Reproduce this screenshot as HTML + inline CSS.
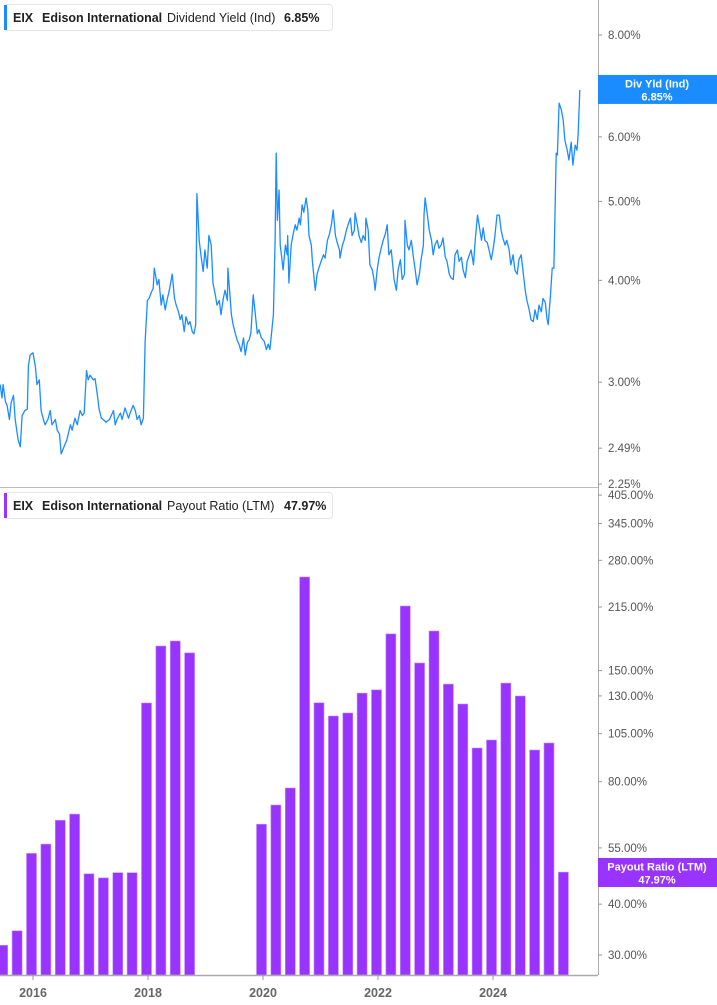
<!DOCTYPE html>
<html><head><meta charset="utf-8"><style>
html,body{margin:0;padding:0;background:#fff;}
svg{display:block;font-family:"Liberation Sans",sans-serif;}
</style></head><body>
<svg id="chart" width="717" height="1005" viewBox="0 0 717 1005" xmlns="http://www.w3.org/2000/svg">
<rect x="0" y="0" width="717" height="1005" fill="#fff"/>
<g id="topPanel"></g>
<g id="botPanel"></g>
<g id="axesG"></g>
</svg>
<script>
const yieldDates=[2015.43,2015.46,2015.48,2015.52,2015.55,2015.59,2015.62,2015.66,2015.69,2015.74,2015.78,2015.81,2015.86,2015.90,2015.92,2015.95,2016.00,2016.04,2016.07,2016.11,2016.14,2016.18,2016.21,2016.26,2016.30,2016.33,2016.39,2016.42,2016.46,2016.49,2016.54,2016.59,2016.65,2016.68,2016.73,2016.77,2016.82,2016.86,2016.89,2016.93,2016.96,2016.99,2017.05,2017.08,2017.12,2017.15,2017.19,2017.22,2017.27,2017.33,2017.36,2017.40,2017.43,2017.46,2017.52,2017.55,2017.60,2017.66,2017.69,2017.74,2017.78,2017.81,2017.85,2017.88,2017.92,2017.95,2017.99,2018.02,2018.06,2018.09,2018.11,2018.16,2018.19,2018.23,2018.26,2018.30,2018.33,2018.37,2018.42,2018.46,2018.49,2018.53,2018.56,2018.59,2018.63,2018.66,2018.70,2018.73,2018.77,2018.80,2018.83,2018.85,2018.89,2018.92,2018.96,2018.99,2019.03,2019.06,2019.10,2019.13,2019.17,2019.20,2019.24,2019.27,2019.31,2019.34,2019.38,2019.39,2019.45,2019.48,2019.52,2019.55,2019.59,2019.62,2019.66,2019.69,2019.73,2019.76,2019.79,2019.83,2019.86,2019.90,2019.93,2019.97,2020.02,2020.06,2020.09,2020.12,2020.18,2020.21,2020.23,2020.25,2020.28,2020.30,2020.33,2020.35,2020.39,2020.42,2020.43,2020.45,2020.49,2020.52,2020.56,2020.59,2020.63,2020.65,2020.68,2020.71,2020.75,2020.78,2020.80,2020.84,2020.86,2020.89,2020.91,2020.94,2020.97,2021.01,2021.05,2021.08,2021.12,2021.15,2021.19,2021.22,2021.26,2021.29,2021.33,2021.34,2021.38,2021.41,2021.45,2021.48,2021.52,2021.55,2021.59,2021.60,2021.64,2021.67,2021.71,2021.74,2021.78,2021.79,2021.83,2021.86,2021.90,2021.93,2021.95,2021.99,2022.02,2022.06,2022.09,2022.13,2022.16,2022.19,2022.23,2022.25,2022.28,2022.32,2022.35,2022.39,2022.42,2022.46,2022.47,2022.51,2022.54,2022.58,2022.61,2022.65,2022.68,2022.72,2022.75,2022.79,2022.80,2022.82,2022.86,2022.89,2022.93,2022.96,2022.99,2023.03,2023.06,2023.10,2023.13,2023.17,2023.20,2023.24,2023.27,2023.31,2023.34,2023.38,2023.41,2023.45,2023.48,2023.52,2023.55,2023.59,2023.62,2023.66,2023.69,2023.73,2023.76,2023.80,2023.83,2023.86,2023.90,2023.93,2023.97,2024.00,2024.03,2024.07,2024.11,2024.14,2024.17,2024.21,2024.24,2024.28,2024.31,2024.35,2024.38,2024.42,2024.45,2024.49,2024.52,2024.56,2024.59,2024.63,2024.66,2024.70,2024.73,2024.77,2024.80,2024.84,2024.87,2024.91,2024.94,2024.96,2025.00,2025.03,2025.06,2025.10,2025.12,2025.15,2025.19,2025.22,2025.25,2025.29,2025.32,2025.36,2025.39,2025.43,2025.46,2025.48,2025.51];
const yieldValues=[2.98,2.87,2.98,2.84,2.81,2.70,2.83,2.89,2.70,2.55,2.50,2.73,2.77,2.78,3.14,3.24,3.26,3.14,2.98,3.02,2.77,2.70,2.66,2.70,2.77,2.66,2.70,2.62,2.59,2.45,2.50,2.55,2.66,2.62,2.71,2.66,2.77,2.73,2.75,3.10,3.02,3.06,3.02,3.03,2.89,2.78,2.71,2.70,2.68,2.70,2.73,2.77,2.66,2.70,2.75,2.70,2.79,2.71,2.75,2.81,2.77,2.70,2.73,2.66,2.71,3.36,3.78,3.80,3.87,3.91,4.14,3.95,4.01,3.73,3.84,3.68,3.78,3.89,4.07,3.80,3.73,3.66,3.58,3.63,3.46,3.61,3.53,3.56,3.46,3.44,3.53,5.11,4.48,4.30,4.10,4.36,4.14,4.54,4.42,3.97,3.84,3.73,3.78,3.63,3.80,3.89,3.78,4.14,3.63,3.53,3.44,3.38,3.33,3.27,3.40,3.24,3.36,3.38,3.45,3.84,3.68,3.44,3.48,3.40,3.37,3.29,3.34,3.29,3.63,4.48,5.73,4.74,5.16,4.42,4.24,4.12,4.42,4.30,4.54,3.97,4.42,4.54,4.68,4.61,4.77,4.68,4.95,4.85,5.05,4.88,4.54,4.42,4.22,4.01,3.89,4.07,4.14,4.22,4.30,4.26,4.48,4.54,4.68,4.88,4.54,4.45,4.36,4.26,4.42,4.48,4.61,4.68,4.77,4.54,4.61,4.84,4.68,4.54,4.45,4.54,4.48,4.77,4.61,4.18,4.12,4.01,3.89,4.14,4.27,4.39,4.48,4.57,4.68,4.30,4.36,4.22,4.01,3.89,4.12,4.24,4.01,4.07,4.74,4.42,4.36,4.48,4.30,4.10,3.95,4.07,4.24,4.42,4.81,5.05,4.81,4.61,4.48,4.30,4.42,4.48,4.38,4.42,4.51,4.27,4.22,4.07,4.03,4.01,4.30,4.36,4.22,4.27,4.12,4.03,4.22,4.30,4.36,4.18,4.48,4.81,4.67,4.48,4.64,4.48,4.45,4.36,4.24,4.36,4.51,4.81,4.81,4.61,4.51,4.42,4.48,4.36,4.18,4.30,4.12,4.07,4.24,4.30,4.12,3.89,3.78,3.68,3.58,3.56,3.68,3.58,3.73,3.66,3.80,3.76,3.58,3.53,3.84,4.14,4.14,5.73,5.70,6.60,6.47,6.29,5.94,5.78,5.62,5.91,5.54,5.86,5.78,6.03,6.85];
const payoutDates=[2015.5,2015.75,2016.0,2016.25,2016.5,2016.75,2017.0,2017.25,2017.5,2017.75,2018.0,2018.25,2018.5,2018.75,2019.0,2019.25,2019.5,2019.75,2020.0,2020.25,2020.5,2020.75,2021.0,2021.25,2021.5,2021.75,2022.0,2022.25,2022.5,2022.75,2023.0,2023.25,2023.5,2023.75,2024.0,2024.25,2024.5,2024.75,2025.0,2025.25];
const payoutValues=[31.7,34.4,53.3,56.2,64.3,66.6,47.5,46.4,47.8,47.8,124.9,172.4,177.4,165.8,null,null,null,null,62.9,70.1,77.2,254.8,125,116,118,132.1,134.5,184.6,216.2,156.6,187.7,139.0,124.2,96.8,101.3,139.8,129.9,95.7,99.6,47.97];
const yearTicks=[2016,2018,2020,2022,2024];
const yieldTicks=[8,7,6,5,4,3,2.49,2.25];
const payoutTicks=[405,345,280,215,150,130,105,80,55,40,30];
const NS="http://www.w3.org/2000/svg";
const xs=d=>33+(d-2016)*57.5;
const yTop=v=>35+354*Math.log(8/v);
const yBot=v=>955-176.7*Math.log(v/30);
function mk(tag,attrs,parent,text){const e=document.createElementNS(NS,tag);for(const k in attrs)e.setAttribute(k,attrs[k]);if(text!==undefined)e.textContent=text;parent.appendChild(e);return e;}
const topG=document.getElementById('topPanel'),botG=document.getElementById('botPanel'),axG=document.getElementById('axesG');
const nPts=Math.min(yieldDates.length,yieldValues.length);
let d='';for(let i=0;i<nPts;i++){d+=(i?'L':'M')+xs(yieldDates[i]).toFixed(1)+' '+yTop(yieldValues[i]).toFixed(1);}
const ln=mk('path',{d:d,fill:'none',stroke:'#1a8cff','stroke-width':1.3,'stroke-linejoin':'round'},topG);


payoutDates.forEach((t,i)=>{const v=payoutValues[i];if(v==null)return;const yy=yBot(v);const b=mk('rect',{x:(xs(t)-6.5).toFixed(1),y:yy.toFixed(1),width:10,height:(975-yy).toFixed(1),fill:'#9933ff',stroke:'#c38cff','stroke-width':0.6},botG);

});
mk('line',{x1:0,y1:487.5,x2:598,y2:487.5,stroke:'#bbb','stroke-width':1},axG);
mk('line',{x1:0,y1:975.5,x2:598,y2:975.5,stroke:'#aaa','stroke-width':1.5},axG);
mk('line',{x1:598.5,y1:0,x2:598.5,y2:975,stroke:'#aaa','stroke-width':1},axG);
yearTicks.forEach(y=>{const x=xs(y);mk('line',{x1:x,y1:975,x2:x,y2:980,stroke:'#999'},axG);
const t=mk('text',{x:x,y:997,'text-anchor':'middle','font-size':12.5,'font-weight':'bold',fill:'#666'},axG,String(y));

});
yieldTicks.forEach(v=>{const y=yTop(v);mk('line',{x1:598,y1:y,x2:602,y2:y,stroke:'#999'},axG);
const t=mk('text',{x:608,y:y+4,'font-size':11.5,fill:'#555'},axG,v.toFixed(2)+'%');

});
payoutTicks.forEach(v=>{const y=yBot(v);mk('line',{x1:598,y1:y,x2:602,y2:y,stroke:'#999'},axG);
const t=mk('text',{x:608,y:y+4,'font-size':11.5,fill:'#555'},axG,v.toFixed(2)+'%');

});
function badge(yc,col,l1,l2,name){const g=mk('g',{},axG);


mk('rect',{x:598,y:yc-14.5,width:119,height:29,fill:col},g);
mk('text',{x:657,y:yc-2,'text-anchor':'middle','font-size':11,'font-weight':'bold',fill:'#fff'},g,l1);
mk('text',{x:657,y:yc+11,'text-anchor':'middle','font-size':11,'font-weight':'bold',fill:'#fff'},g,l2);}
badge(yTop(yieldValues[nPts-1])-0.5,'#1a8cff','Div Yld (Ind)',yieldValues[nPts-1].toFixed(2)+'%','yield-value-badge');
badge(872.5,'#9933ff','Payout Ratio (LTM)',payoutValues[payoutValues.length-1].toFixed(2)+'%','payout-value-badge');
function legend(y,col,label,val,name){const g=mk('g',{},axG);


mk('rect',{x:4.5,y:y+0.5,width:328,height:26,rx:3,fill:'#fff',stroke:'#e6e6e6'},g);
mk('rect',{x:4,y:y+1,width:3,height:25,fill:col},g);
mk('text',{x:13,y:y+18,'font-size':12.5,'font-weight':'bold',fill:'#222'},g,'EIX');
mk('text',{x:42,y:y+18,'font-size':12.5,'font-weight':'bold',fill:'#222'},g,'Edison International');
mk('text',{x:167,y:y+18,'font-size':12.5,fill:'#222'},g,label);
mk('text',{x:284,y:y+18,'font-size':12.5,'font-weight':'bold',fill:'#222'},g,val);}
legend(4,'#1a8cff','Dividend Yield (Ind)','6.85%','yield-legend');
legend(492,'#9933ff','Payout Ratio (LTM)','47.97%','payout-legend');
</script>
</body></html>
